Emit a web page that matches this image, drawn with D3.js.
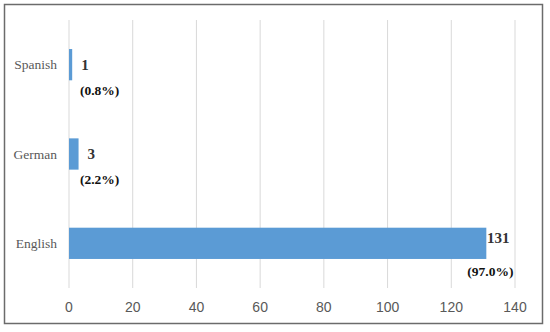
<!DOCTYPE html>
<html>
<head>
<meta charset="utf-8">
<script src="https://cdn.jsdelivr.net/npm/d3@7"></script>
<style>
    body { margin: 0; background: #fff; }
</style>
</head>
<body>
<svg id="chart" width="550" height="332"></svg>
<script>
// languages, top to bottom
const languages = ["Spanish", "German", "English"];
const counts = [1, 3, 131];
const shares = ["(0.8%)", "(2.2%)", "(97.0%)"];
const xTicks = [0, 20, 40, 60, 80, 100, 120, 140];

const svg = d3.select("#chart");
const plotLeft = 69, plotRight = 515, plotTop = 20, plotBottom = 288;

// outer frame
svg.append("rect")
    .attr("x", 4.5).attr("y", 4.5)
    .attr("width", 538).attr("height", 319)
    .attr("fill", "#fff")
    .attr("stroke", "#6b6b6b")
    .attr("stroke-width", 1.5);

const x = d3.scaleLinear().domain([0, 140]).range([plotLeft, plotRight]);
const y = d3.scaleBand().domain(languages).range([plotTop, plotBottom]).paddingInner(0.65).paddingOuter(0.325);

// gridlines
svg.append("g")
    .selectAll("line")
    .data(xTicks)
    .enter()
    .append("line")
    .attr("x1", (d) => x(d)).attr("x2", (d) => x(d))
    .attr("y1", plotTop).attr("y2", plotBottom)
    .attr("stroke", "#d9d9d9")
    .attr("stroke-width", 1);

// x tick labels
svg.append("g")
    .selectAll("text")
    .data(xTicks)
    .enter()
    .append("text")
    .attr("x", (d) => x(d))
    .attr("y", 312)
    .attr("text-anchor", "middle")
    .attr("font-family", "Liberation Sans, Arial, sans-serif")
    .attr("font-size", 14)
    .attr("fill", "#595959")
    .text((d) => d);

// category labels
svg.append("g")
    .selectAll("text")
    .data(languages)
    .enter()
    .append("text")
    .attr("x", 57)
    .attr("y", (d) => y(d) + y.bandwidth() / 2)
    .attr("dy", "0.35em")
    .attr("text-anchor", "end")
    .attr("font-family", "Liberation Serif, Times New Roman, serif")
    .attr("font-size", 13.5)
    .attr("fill", "#595959")
    .text((d) => d);

const rows = languages.map((l, i) => ({ lang: l, n: counts[i], pct: shares[i] }));

// bars
svg.append("g")
    .selectAll("rect")
    .data(rows)
    .enter()
    .append("rect")
    .attr("x", x(0))
    .attr("y", (d) => y(d.lang))
    .attr("width", (d) => x(d.n) - x(0))
    .attr("height", y.bandwidth())
    .attr("fill", "#5b9bd5");

// value labels
svg.append("g")
    .selectAll("text")
    .data(rows)
    .enter()
    .append("text")
    .attr("x", (d) => Math.min(x(d.n) + 9, x(140) - 28))
    .attr("y", (d) => y(d.lang) + y.bandwidth() / 2 - (x(d.n) + 9 > x(140) - 28 ? 6 : 0))
    .attr("dy", "0.35em")
    .attr("font-family", "Liberation Serif, Times New Roman, serif")
    .attr("font-weight", "bold")
    .attr("font-size", 15)
    .attr("fill", "#333")
    .text((d) => d.n);

// share labels
svg.append("g")
    .selectAll("text")
    .data(rows)
    .enter()
    .append("text")
    .attr("x", (d) => Math.max(x(0) + 11, x(d.n) - 19))
    .attr("y", (d) => y(d.lang) + y.bandwidth() / 2 + (d.n > 100 ? 28 : 25.5))
    .attr("dy", "0.35em")
    .attr("font-family", "Liberation Serif, Times New Roman, serif")
    .attr("font-weight", "bold")
    .attr("font-size", 13.5)
    .attr("fill", "#111")
    .text((d) => d.pct);
</script>
</body>
</html>
